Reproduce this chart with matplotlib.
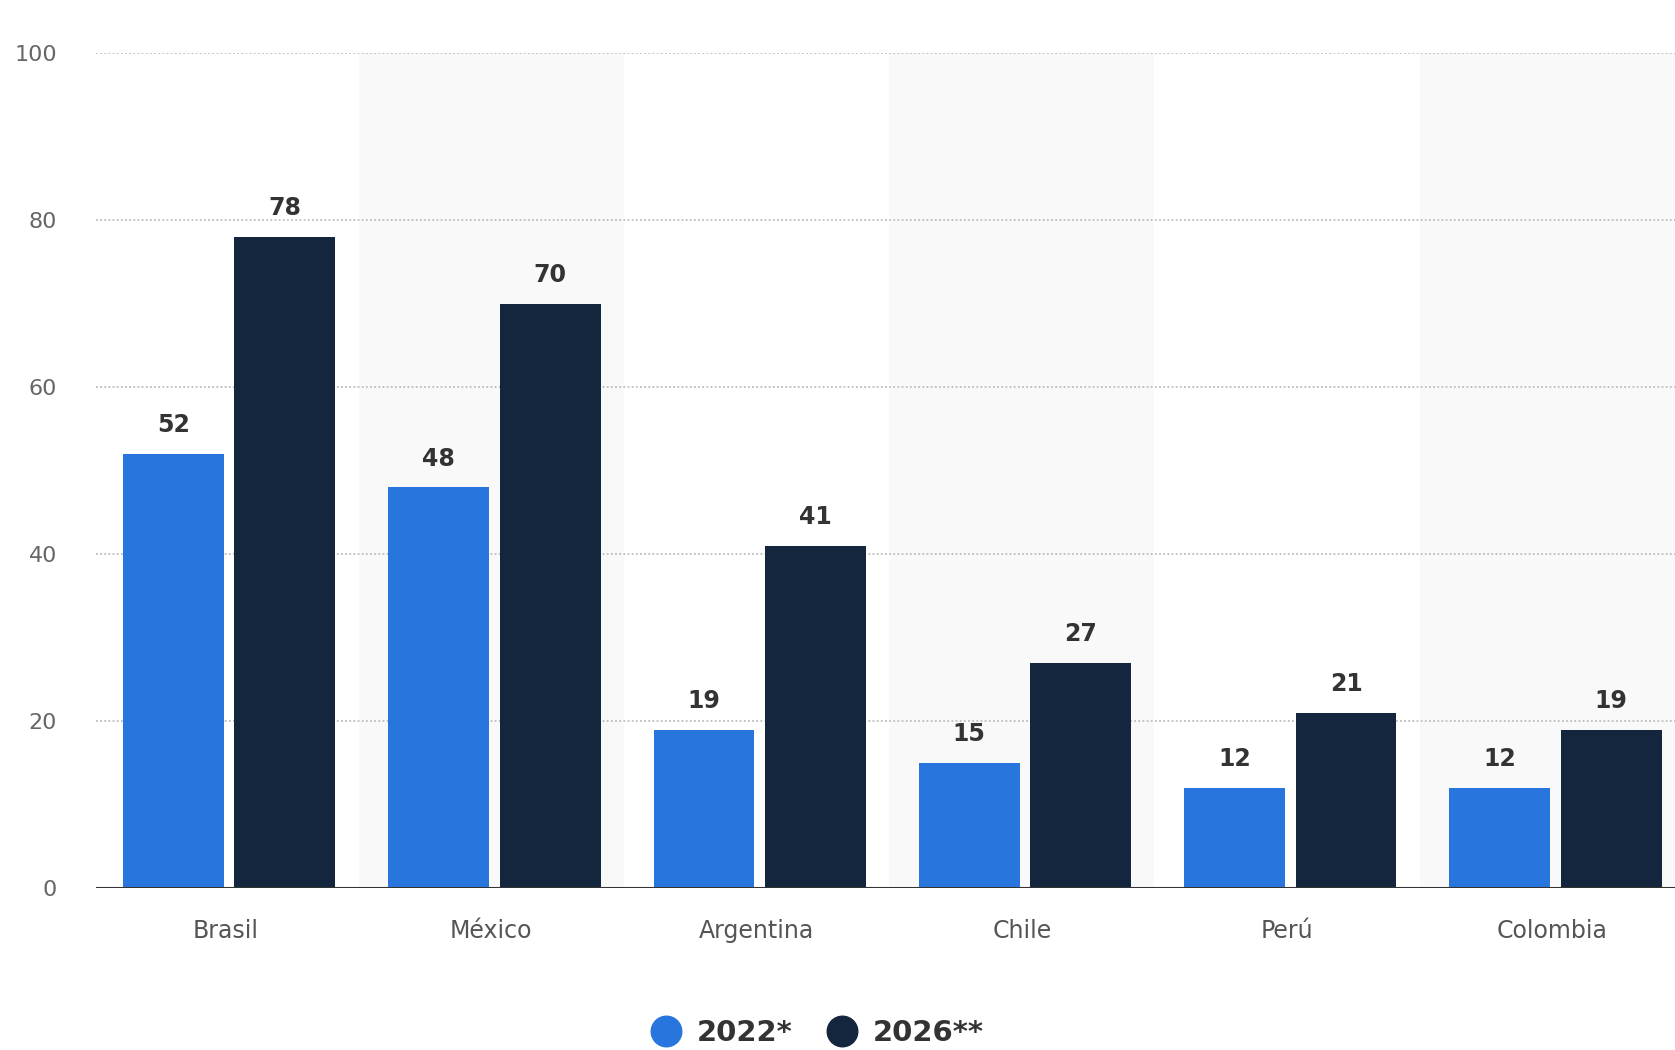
import matplotlib
matplotlib.use("Agg")
import matplotlib.pyplot as plt
from matplotlib.lines import Line2D
import numpy as np

categories = ["Brasil", "México", "Argentina", "Chile", "Perú", "Colombia"]
values_2022 = [52, 48, 19, 15, 12, 12]
values_2026 = [78, 70, 41, 27, 21, 19]
series_names = ["2022*", "2026**"]
yticks = [0, 20, 40, 60, 80, 100]

c_blue = "#2876dd"
c_dark = "#14263d"

plt.rcParams['font.family'] = ['DejaVu Sans']
fig = plt.figure(figsize=(16.75, 10.5), dpi=100)
ax = fig.add_axes([0.0573, 0.154, 0.9487, 0.7955])

x = np.arange(len(categories))
w = 0.38
off_a = -0.198
off_b = 0.222

for i in range(len(categories)):
    if i % 2 == 1:
        ax.axvspan(i - 0.5, i + 0.5, color="#f9f9f9", zorder=0, lw=0)

for yv in yticks[1:]:
    ax.axhline(yv, color="#bdbdbd", lw=1.3, ls=(0, (1, 1.3)), zorder=1)

b1 = ax.bar(x + off_a, values_2022, w, color=c_blue, zorder=3)
b2 = ax.bar(x + off_b, values_2026, w, color=c_dark, zorder=3)

for bars, vals in ((b1, values_2022), (b2, values_2026)):
    for r, v in zip(bars, vals):
        ax.annotate(f"{v}", (r.get_x() + r.get_width() / 2, v), xytext=(0, 12),
                    textcoords="offset points", ha="center", va="bottom",
                    fontsize=17, fontweight="bold", color="#333333")

ax.axhline(0, color="#333333", lw=2.2, zorder=4)
ax.set_xlim(-0.49, len(categories) - 0.5)
ax.set_ylim(0, 100)
ax.set_yticks(yticks)
ax.set_yticklabels([str(t) for t in yticks], fontsize=16, color="#666666")
ax.set_xticks(x)
ax.set_xticklabels(categories, fontsize=17, color="#555555")
ax.tick_params(axis="y", length=0, pad=28)
ax.tick_params(axis="x", length=0, pad=22)
for s in ax.spines.values():
    s.set_visible(False)

handles = [Line2D([0], [0], marker="o", color="none", markerfacecolor=c, markeredgecolor=c,
                  markersize=22) for c in (c_blue, c_dark)]
leg = fig.legend(handles, series_names, loc="center", bbox_to_anchor=(0.487, 0.016),
                 ncol=2, frameon=False, handletextpad=0.45, columnspacing=1.1,
                 prop={"size": 21, "weight": "bold"}, handlelength=1.2)
for t in leg.get_texts():
    t.set_color("#333333")

fig.savefig("out.png", dpi=100)
